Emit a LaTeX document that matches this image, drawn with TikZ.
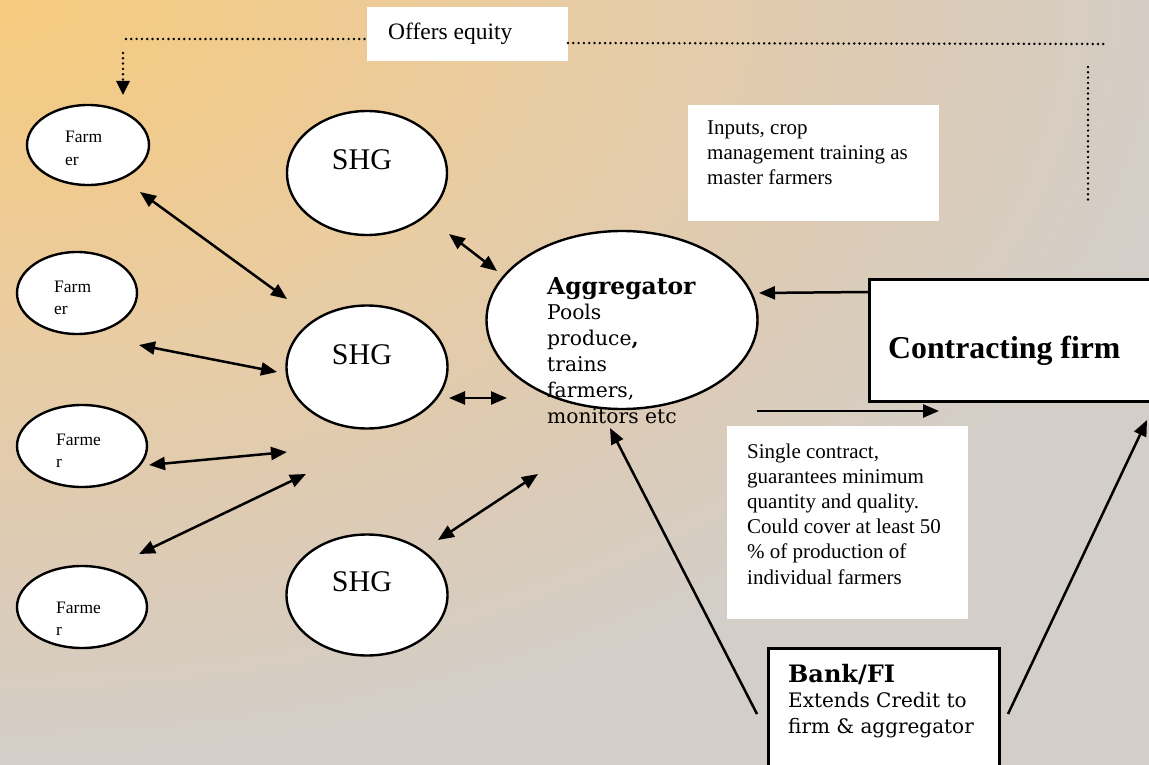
\documentclass[tikz,border=0pt]{standalone}
\usepackage{fontspec}
\setmainfont{Liberation Serif}
\newfontfamily\bkm{DejaVu Serif}
\usetikzlibrary{shapes.geometric,arrows.meta}
\definecolor{bgA}{HTML}{F6CB7E}
\definecolor{bgB}{HTML}{F0CB90}
\definecolor{bgC}{HTML}{E7CCA6}
\definecolor{bgD}{HTML}{DCCBB6}
\definecolor{bgE}{HTML}{D3CEC8}
\pgfdeclareradialshading{bgshade}{\pgfpointorigin}{color(0bp)=(bgA); color(6bp)=(bgB); color(12.5bp)=(bgC); color(19bp)=(bgD); color(25bp)=(bgE); color(50bp)=(bgE)}
\begin{document}
\begin{tikzpicture}[x=1pt,y=-1pt,
  ell/.style={ellipse, draw=black, line width=2.4pt, fill=white, inner sep=0pt},
  wbox/.style={rectangle, fill=white, inner sep=0pt, anchor=north west},
  bbox/.style={rectangle, fill=white, draw=black, line width=2.8pt, inner sep=0pt, anchor=north west},
  dbl/.style={{Triangle[length=16pt,width=13pt]}-{Triangle[length=16pt,width=13pt]}, line width=2.5pt},
  sgl/.style={-{Triangle[length=16pt,width=13pt]}, line width=2.5pt},
  dotline/.style={line width=2.7pt, dash pattern=on 0pt off 5.3pt, line cap=round},
  txt/.style={inner sep=0pt, anchor=base west, align=left},
  farmtxt/.style={txt, font=\fontsize{17.5}{22}\selectfont},
  shgtxt/.style={inner sep=0pt, anchor=base, font=\fontsize{30}{36}\selectfont},
  boxtxt/.style={txt, font=\fontsize{21}{25.2}\selectfont}]
\useasboundingbox (0,0) rectangle (1149,765);
\begin{scope}
\clip (0,0) rectangle (1149,765);
\fill[bgE] (0,0) rectangle (1149,765);
\shade[shading=bgshade] (0,0) ellipse [x radius=1200pt, y radius=760pt];
\end{scope}

% Offers equity
\node[wbox, minimum width=201pt, minimum height=54pt] (eqbox) at (367,7) {};
\node[txt, font=\fontsize{23.5}{28}\selectfont] (eqtxt) at (388,40) {Offers equity};
\coordinate (dl1) at (126,39);
\coordinate (dl2) at (367,39);
\coordinate (dr1) at (568,43);
\coordinate (dr2) at (1106,44);
\coordinate (dv1) at (1088,67);
\coordinate (dv2) at (1088,201);
\coordinate (da1) at (123,53);
\coordinate (da2) at (123,95);
\draw[dotline] (dl1) -- (dl2);
\draw[dotline] (dr1) -- (dr2);
\draw[dotline] (dv1) -- (dv2);
\draw[dotline, -{Triangle[length=14pt,width=13pt]}] (da1) -- (da2);

% Farmers
\node[ell, minimum width=122pt, minimum height=80pt] (f1) at (88,145) {};
\node[ell, minimum width=120pt, minimum height=82pt] (f2) at (77,293) {};
\node[ell, minimum width=130pt, minimum height=82pt] (f3) at (82,446) {};
\node[ell, minimum width=130pt, minimum height=82pt] (f4) at (82,607) {};
\node[farmtxt] (f1t) at (65,165) {Farm\\er};
\node[farmtxt] (f2t) at (54,314) {Farm\\er};
\node[farmtxt] (f3t) at (56,467) {Farme\\r};
\node[farmtxt] (f4t) at (56,635) {Farme\\r};

% SHGs
\node[ell, minimum width=160pt, minimum height=124pt] (s1) at (367,173) {};
\node[ell, minimum width=161pt, minimum height=123pt] (s2) at (367,367) {};
\node[ell, minimum width=161pt, minimum height=121pt] (s3) at (367,595) {};
\node[shgtxt] (s1t) at (362,170) {SHG};
\node[shgtxt] (s2t) at (362,364) {SHG};
\node[shgtxt] (s3t) at (362,591) {SHG};

% Aggregator
\node[ell, minimum width=271pt, minimum height=178pt] (agg) at (622,320) {};
\node[txt, font=\bkm\fontsize{20.3}{25.8}\selectfont] (aggt) at (547,423)
  {{\fontsize{23.4}{25.8}\selectfont\bfseries Aggregator}\\Pools\\produce{\bfseries,}\\trains\\farmers,\\monitors etc};

% Contracting firm
\node[bbox, minimum width=284pt, minimum height=122pt] (cf) at (868,278) {};
\node[txt, font=\fontsize{31.8}{36}\selectfont\bfseries] (cft) at (888,358) {Contracting firm};

% Inputs box
\node[wbox, minimum width=251pt, minimum height=116pt] (inp) at (688,105) {};
\node[boxtxt] (inpt) at (707,185) {Inputs, crop\\management training as\\master farmers};

% Single contract box
\node[wbox, minimum width=241pt, minimum height=193pt] (sc) at (727,426) {};
\node[boxtxt] (sct) at (747,584) {Single contract,\\guarantees minimum\\quantity and quality.\\Could cover at least 50\\\% of production of\\individual farmers};

% Bank box
\node[bbox, minimum width=231pt, minimum height=130pt] (bank) at (767,647) {};
\node[txt, font=\bkm\fontsize{20}{25.5}\selectfont] (bankt) at (788,733)
  {{\fontsize{24}{25.5}\selectfont\bfseries Bank/FI}\\Extends Credit to\\firm \& aggregator};

% Farmer - SHG arrows
\coordinate (a1) at (140,192); \coordinate (a2) at (287,299);
\coordinate (b1) at (139,345); \coordinate (b2) at (277,372);
\coordinate (c1) at (149,465); \coordinate (c2) at (287,452);
\coordinate (e1) at (139,554); \coordinate (e2) at (306,474);
\draw[dbl] (a1) -- (a2);
\draw[dbl] (b1) -- (b2);
\draw[dbl] (c1) -- (c2);
\draw[dbl] (e1) -- (e2);

% SHG - Aggregator arrows
\coordinate (g1) at (449,234); \coordinate (g2) at (497,271);
\coordinate (h1) at (449,398); \coordinate (h2) at (507,398);
\coordinate (k1) at (438,540); \coordinate (k2) at (538,474);
\draw[dbl] (g1) -- (g2);
\draw[dbl] (h1) -- (h2);
\draw[dbl] (k1) -- (k2);

% Firm <-> Aggregator
\coordinate (cfo) at (868,292); \coordinate (aggi) at (759,293);
\coordinate (aggo) at (757,411); \coordinate (cfi) at (939,411);
\draw[sgl] (cfo) -- (aggi);
\draw[sgl] (aggo) -- (cfi);

% Bank arrows
\coordinate (bk1) at (757,714); \coordinate (aggb) at (610,428);
\coordinate (bk2) at (1008,714); \coordinate (cfb) at (1147,420);
\draw[sgl] (bk1) -- (aggb);
\draw[sgl] (bk2) -- (cfb);
\end{tikzpicture}
\end{document}
